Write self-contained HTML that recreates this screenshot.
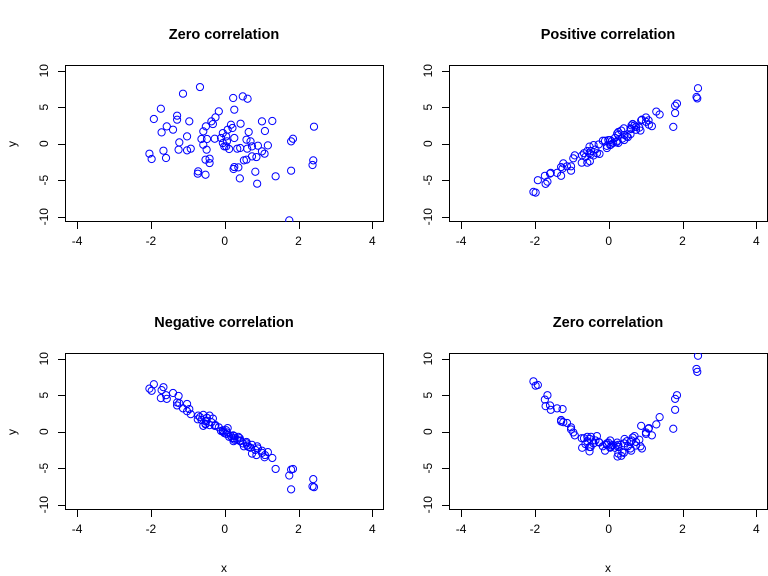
<!DOCTYPE html>
<html><head><meta charset="utf-8"><style>
html,body{margin:0;padding:0;background:#fff;}
svg{display:block;font-family:"Liberation Sans",Arial,sans-serif;}
</style></head><body>
<svg id="chart" width="768" height="576" viewBox="0 0 768 576"></svg>
<script>
const xVals=[-0.67,-1.13,0.23,0.49,0.62,-1.73,0.26,-0.16,-1.92,-1.29,-1.29,-0.96,-0.25,-0.36,-0.32,-0.51,-1.57,-1.71,-1.40,-0.58,0.17,0.43,1.01,1.29,2.42,1.09,0.65,-0.05,0.08,0.21,-1.02,-1.23,-0.63,-0.48,-0.27,-0.10,0.04,0.26,0.59,0.70,1.85,1.80,-2.04,-1.98,-1.66,-1.59,-1.25,-1.02,-0.92,-0.49,-0.58,0.04,0.12,0.34,0.42,0.61,0.74,0.90,1.17,1.01,1.08,0.86,0.74,0.52,0.59,-0.52,-0.41,-0.41,0.26,0.37,0.24,2.40,2.38,-0.72,-0.73,-0.52,0.41,0.83,1.38,1.80,0.88,-0.05,-0.01,0.06,1.75];
const yZero=[7.76,6.85,6.26,6.48,6.16,4.79,4.66,4.43,3.38,3.84,3.29,3.06,3.61,3.06,2.69,2.37,2.37,1.55,1.92,1.69,2.60,2.74,3.06,3.11,2.33,1.74,1.60,1.46,1.92,2.15,1.00,0.18,0.64,0.64,0.68,0.78,1.00,0.78,0.55,0.32,0.68,0.32,-1.37,-2.10,-0.96,-1.96,-0.82,-0.91,-0.68,-0.82,-0.14,-0.37,-0.73,-0.68,-0.59,-0.68,-0.37,-0.27,-0.23,-1.05,-1.37,-1.83,-1.74,-2.28,-2.19,-2.19,-2.05,-2.65,-3.20,-3.24,-3.47,-2.28,-2.92,-3.79,-4.11,-4.25,-4.75,-3.84,-4.47,-3.70,-5.48,0.09,-0.37,0.32,-10.5];
const yPos=[-1.3,-3.1,1.4,1.0,2.5,-4.4,0.1,0.4,-5.0,-3.2,-4.4,-2.0,-1.4,-0.8,-1.3,-2.4,-4.0,-5.5,-4.0,-1.0,0.8,1.2,3.6,4.4,7.6,2.6,2.7,-0.3,0.3,0.2,-3.7,-2.7,-1.8,-1.0,-0.1,0.4,-0.2,1.6,1.3,2.5,5.5,5.2,-6.6,-6.7,-5.2,-4.1,-3.4,-3.1,-1.6,-1.5,-2.6,0.5,0.1,1.8,0.5,2.0,1.9,3.3,2.4,3.0,3.2,1.8,2.3,0.9,2.1,-1.3,-1.6,-0.2,1.2,0.7,0.4,6.2,6.4,-1.6,-2.6,-0.4,2.1,2.2,4.0,4.2,3.2,-0.6,0.5,-0.1,2.3];
const yNeg=[2.0,3.2,-0.5,-1.6,-1.9,4.6,-0.9,0.6,6.5,4.0,3.6,3.1,0.9,1.3,1.8,1.4,4.5,5.7,5.3,2.3,-0.6,-1.2,-2.9,-3.6,-7.6,-3.2,-2.1,0.2,0.5,-0.9,2.8,3.9,1.6,1.9,0.8,0.1,-0.3,-0.6,-1.6,-2.2,-5.1,-5.2,5.9,5.6,6.1,5.0,4.9,3.8,2.4,1.5,0.8,0.2,-0.7,-1.1,-1.3,-1.9,-1.8,-2.3,-2.8,-2.6,-3.5,-3.2,-3.0,-2.0,-1.4,1.1,2.2,0.9,-1.1,-0.7,-1.3,-6.5,-7.5,2.2,1.7,1.0,-0.9,-2.5,-5.1,-7.9,-2.0,0.0,-0.2,-0.1,-6.0];
const yQuad=[-0.9,1.2,-1.5,-1.3,-1.2,4.4,-1.8,-2.0,6.4,1.6,1.4,-0.1,-1.5,-1.2,-0.6,-1.0,3.0,3.5,3.2,-0.7,-2.2,-1.0,-0.1,1.0,10.4,0.5,-0.8,-1.6,-1.9,-1.9,0.6,1.3,-1.7,-0.7,-1.4,-2.6,-1.2,-2.1,-1.4,-0.6,5.0,4.5,6.9,6.3,5.0,3.6,3.1,0.3,-0.5,-2.1,-1.3,-2.2,-1.8,-3.3,-1.6,-2.6,-1.9,-2.3,-0.5,-0.3,0.4,-2.0,-1.4,-2.0,-2.3,-2.1,-1.6,-1.6,-3.0,-2.8,-3.4,8.2,8.6,-2.2,-0.9,-2.7,-2.9,-1.1,2.0,3.0,0.8,-1.8,-1.5,-2.1,0.4];
const xTicks=[-4,-2,0,2,4];
const yTicks=[-10,-5,0,5,10];
const titles=["Zero correlation","Positive correlation","Negative correlation","Zero correlation"];

const svg=document.getElementById('chart');
const NS='http://www.w3.org/2000/svg';
function mk(tag,attrs,parent){const e=document.createElementNS(NS,tag);for(const k in attrs)e.setAttribute(k,attrs[k]);parent.appendChild(e);return e;}

const panels=[
 {ox:0,oy:0,ys:yZero,xl:false,yl:true,name:'zero-correlation-top'},
 {ox:384,oy:0,ys:yPos,xl:false,yl:false,name:'positive-correlation'},
 {ox:0,oy:288,ys:yNeg,xl:true,yl:true,name:'negative-correlation'},
 {ox:384,oy:288,ys:yQuad,xl:true,yl:false,name:'zero-correlation-quadratic'}
];
panels.forEach((p,i)=>{
  const g=mk('g',{},svg);
  
  
  const L=p.ox+65,R=p.ox+384,T=p.oy+65,B=p.oy+222;
  const sx=v=>p.ox+224.7+v*36.9;
  const sy=v=>p.oy+143.7-v*7.3;
  const box=mk('rect',{x:L+0.5,y:T+0.5,width:R-L-1,height:B-T-1,fill:'none',stroke:'#000','stroke-width':1},g);
  
  
  const t=mk('text',{x:p.ox+224,y:p.oy+39,'text-anchor':'middle','font-size':'14.5','font-weight':'bold'},g);
  t.textContent=titles[i];
  
  
  const xa=mk('g',{},g);
  
  
  xTicks.forEach(v=>{
    mk('line',{x1:Math.round(sx(v))+0.5,x2:Math.round(sx(v))+0.5,y1:B,y2:B+7,stroke:'#000'},xa);
    const tl=mk('text',{x:sx(v),y:B+23,'text-anchor':'middle','font-size':'12'},xa);
    tl.textContent=String(v);
    
    
  });
  const ya=mk('g',{},g);
  
  
  yTicks.forEach(v=>{
    const yy=Math.round(sy(v))+0.5;
    mk('line',{x1:L-7,x2:L,y1:yy,y2:yy,stroke:'#000'},ya);
    const tl=mk('text',{x:L-17,y:sy(v),'text-anchor':'middle','font-size':'12',transform:'rotate(-90 '+(L-17)+' '+sy(v)+')'},ya);
    tl.textContent=String(v);
    
    
  });
  if(p.yl){
    const yt=mk('text',{x:p.ox+16,y:p.oy+144,'text-anchor':'middle','font-size':'12',transform:'rotate(-90 '+(p.ox+16)+' '+(p.oy+144)+')'},g);
    yt.textContent='y';
    
    
  }
  if(p.xl){
    const xt=mk('text',{x:p.ox+224,y:p.oy+284,'text-anchor':'middle','font-size':'12'},g);
    xt.textContent='x';
    
    
  }
  const clipId='clip'+i;
  const cp=mk('clipPath',{id:clipId},g);
  mk('rect',{x:L,y:T,width:R-L,height:B-T},cp);
  const pts=mk('g',{'clip-path':'url(#'+clipId+')'},g);
  
  
  xVals.forEach((xv,j)=>{
    const c=mk('circle',{cx:sx(xv),cy:sy(p.ys[j]),r:3.6,fill:'none',stroke:'#0000ff','stroke-width':1},pts);
    
    
  });
});
</script>
</body></html>
